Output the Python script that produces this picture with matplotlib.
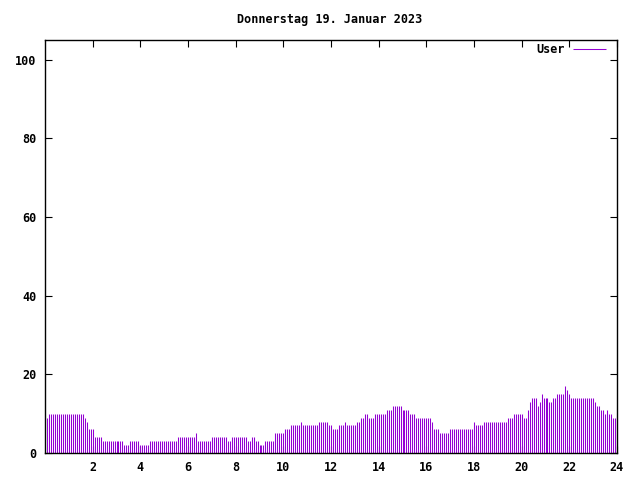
import numpy as np
import matplotlib
matplotlib.use('Agg')
import matplotlib.pyplot as plt

# user counts, one value every 5 minutes (00:05 .. 24:00), one row per hour
users = [
    9, 10, 10, 10, 10, 10, 10, 10, 10, 10, 10, 10,
    10, 10, 10, 10, 10, 10, 10, 9, 8, 6, 6, 6,
    4, 4, 4, 4, 3, 3, 3, 3, 3, 3, 3, 3,
    3, 3, 3, 2, 2, 2, 3, 3, 3, 3, 3, 2,
    2, 2, 2, 2, 3, 3, 3, 3, 3, 3, 3, 3,
    3, 3, 3, 3, 3, 3, 4, 4, 4, 4, 4, 4,
    4, 4, 4, 5, 3, 3, 3, 3, 3, 3, 3, 4,
    4, 4, 4, 4, 4, 4, 4, 3, 3, 4, 4, 4,
    4, 4, 4, 4, 4, 3, 3, 4, 4, 3, 3, 2,
    2, 2, 3, 3, 3, 3, 3, 5, 5, 5, 5, 5,
    6, 6, 6, 7, 7, 7, 7, 7, 8, 7, 7, 7,
    7, 7, 7, 7, 7, 8, 8, 8, 8, 8, 7, 7,
    6, 6, 6, 7, 7, 7, 8, 7, 7, 7, 7, 7,
    8, 8, 9, 9, 10, 10, 9, 9, 9, 10, 10, 10,
    10, 10, 10, 11, 11, 11, 12, 12, 12, 12, 12, 11,
    11, 11, 11, 10, 10, 10, 9, 9, 9, 9, 9, 9,
    9, 9, 8, 6, 6, 6, 5, 5, 5, 5, 5, 6,
    6, 6, 6, 6, 6, 6, 6, 6, 6, 6, 6, 8,
    7, 7, 7, 7, 8, 8, 8, 8, 8, 8, 8, 8,
    8, 8, 8, 8, 9, 9, 9, 10, 10, 10, 10, 10,
    9, 9, 11, 13, 14, 14, 14, 12, 13, 15, 14, 14,
    14, 13, 13, 14, 14, 15, 15, 15, 15, 17, 16, 15,
    14, 14, 14, 14, 14, 14, 14, 14, 14, 14, 14, 14,
    13, 12, 12, 11, 11, 10, 11, 10, 10, 9, 9, 9,
]
hours = np.arange(1, len(users) + 1) * 5 / 60.0

xticks = [2, 4, 6, 8, 10, 12, 14, 16, 18, 20, 22, 24]
yticks = [0, 20, 40, 60, 80, 100]
title = 'Donnerstag 19. Januar 2023'

plt.rcParams['font.family'] = ['DejaVu Sans Mono']
plt.rcParams['font.weight'] = 'bold'
plt.rcParams['font.size'] = 8.5

fig = plt.figure(figsize=(6.4, 4.8), dpi=100)
ax = fig.add_axes([45 / 640, 1 - 453 / 480, 572 / 640, 413 / 480])

ax.vlines(hours, 0, users, colors='#9400d3', linewidth=0.75, label='User')

ax.set_xlim(0, 24)
ax.set_ylim(0, 105)
ax.set_xticks(xticks)
ax.set_yticks(yticks)
ax.tick_params(direction='in', length=5, width=0.8, top=True, right=True,
               colors='black', pad=6)
for s in ax.spines.values():
    s.set_linewidth(1)
fig.text(330 / 640, 1 - 20 / 480, title, ha='center', va='center')

ax.legend(loc='upper right', bbox_to_anchor=((606 - 45) / 572, (453 - 43) / 413),
          frameon=False, markerfirst=False, handlelength=2.8,
          handletextpad=0.7, borderaxespad=0, borderpad=0)

fig.savefig('out.png', dpi=100)
